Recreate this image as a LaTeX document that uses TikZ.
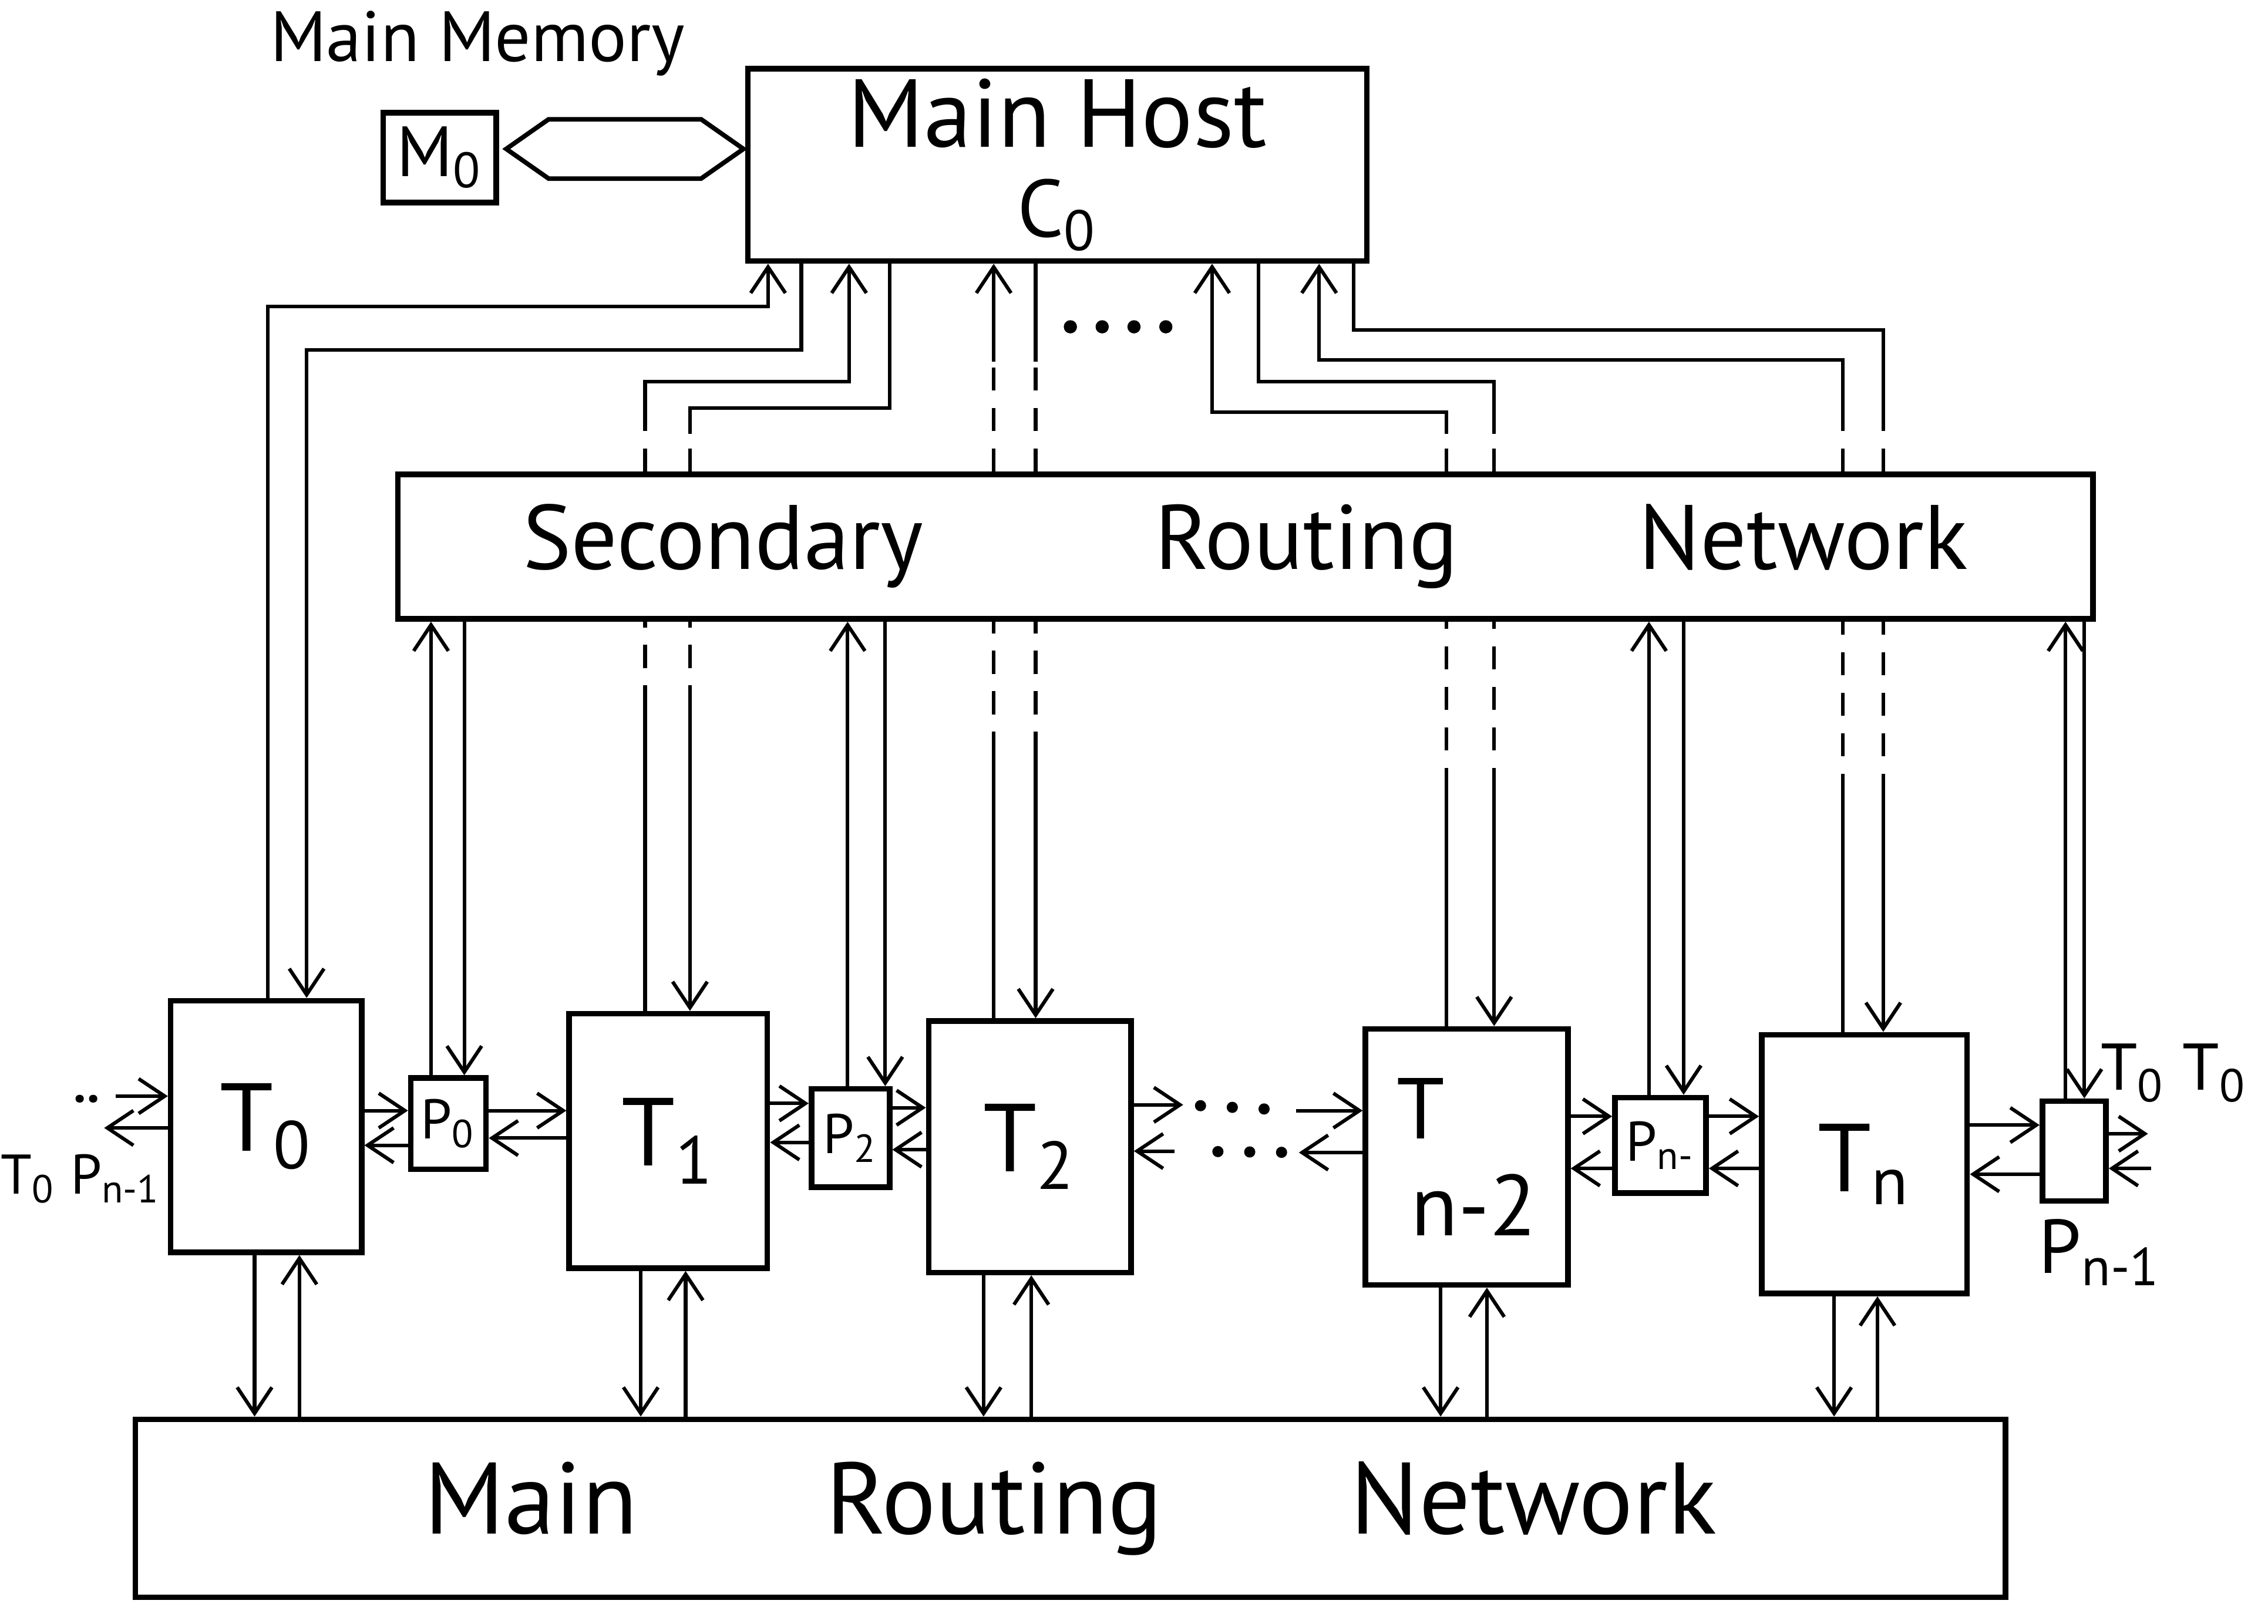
\documentclass[tikz,border=0pt]{standalone}
\usepackage{fontspec}
\setmainfont{PT Sans}
\usetikzlibrary{arrows.meta,shapes.symbols}

\begin{document}
\begin{tikzpicture}[
  x=0.1mm,y=-0.1mm,
  font=\fontsize{14pt}{16pt}\selectfont,
  >={Straight Barb[length=1.8mm,width=2.4mm]},
  blk/.style={draw,line width=1.1pt,inner sep=0pt,align=center},
  unit/.style={blk,font=\fontsize{19pt}{20pt}\selectfont},
  pbox/.style={blk,font=\fontsize{11pt}{12pt}\selectfont},
  net/.style={blk,font=\fontsize{20pt}{22pt}\selectfont},
  link/.style={line width=0.7pt},
  hid/.style={link,dash pattern=on 1.6mm off 1.2mm},
  dotline/.style={line width=2.2pt,line cap=round,dash pattern=on 0pt off 2.2mm},
  ]
\useasboundingbox (0,0) rectangle (1568,1123);

% ---- host and memory ----
\node[blk,minimum width=42.8mm,minimum height=13.3mm,font=\fontsize{19pt}{16pt}\selectfont] (host) at (731,114) {Main Host\\[0.6mm]{\fontsize{16pt}{16pt}\selectfont C\textsubscript{0}}};
\node[blk,minimum width=7.8mm,minimum height=6.2mm] (m0) at (304,109) {M\textsubscript{0}};
\node[signal,signal to=east and west,signal pointer angle=70,draw,line width=0.9pt,inner sep=0pt,minimum width=16.4mm,minimum height=4.1mm] (bus) at (432,103) {};
\node (mmem) at (330,30) {Main Memory};
\coordinate (hd1) at (740,226);
\coordinate (hd2) at (806,226);
\draw[dotline,line width=2.6pt] (hd1) -- (hd2);

% ---- routing networks ----
\node[net,minimum width=117.2mm,minimum height=10mm,font=\fontsize{18pt}{20pt}\selectfont] (srn) at (861,378) {Secondary\hspace{16mm}Routing\hspace{12.5mm}Network};
\node[net,minimum width=129.3mm,minimum height=12.3mm] (mrn) at (740,1043) {Main\hspace{13mm}Routing\hspace{13mm}Network};

% ---- units and ports ----
\node[unit,minimum width=13.2mm,minimum height=17.4mm] (t0) at (184,779) {T\textsubscript{0}};
\node[pbox,minimum width=5.2mm,minimum height=6.3mm] (p0) at (310,777) {P\textsubscript{0}};
\node[unit,minimum width=13.7mm,minimum height=17.6mm] (t1) at (462,789) {T\textsubscript{1}};
\node[pbox,minimum width=5.4mm,minimum height=6.8mm] (p1) at (588,787) {P\textsubscript{2}};
\node[unit,minimum width=14mm,minimum height=17.4mm] (t2) at (712,793) {T\textsubscript{2}};
\node[unit,minimum width=14mm,minimum height=17.7mm,align=left,font=\fontsize{17pt}{19pt}\selectfont] (tn2) at (1014,800) {T\\\,n-2};
\node[pbox,minimum width=6.3mm,minimum height=6.6mm] (pn2) at (1148,792) {P\textsubscript{n-}};
\node[unit,minimum width=14.2mm,minimum height=17.9mm] (tn) at (1289,805) {T\textsubscript{n}};
\node[pbox,minimum width=4.4mm,minimum height=6.9mm] (pn1) at (1434,796) {};

% ---- side labels ----
\node[font=\fontsize{11pt}{12pt}\selectfont] (lwest) at (56,815) {T\textsubscript{0} P\textsubscript{n-1}};
\node[font=\bfseries] (lwdots) at (60,760) {..};
\node[font=\fontsize{13pt}{14pt}\selectfont] (least) at (1503,742) {T\textsubscript{0} T\textsubscript{0}};
\node[font=\fontsize{15pt}{16pt}\selectfont] (lpn1) at (1452,866) {P\textsubscript{n-1}};

% ---- host <-> T0 ----
\draw[link,->] (185,0 |- t0.north) |- (531,212) -- (531,0 |- host.south);
\draw[link,->] (554,0 |- host.south) |- (212,242) -- (212,0 |- t0.north);

% ---- host <-> units, passing the secondary network ----
\foreach \x/\lo/\hi/\u/\tip in {446/490/295/t1/-, 477/490/300/t1/->, 687/522/250/t2/-, 716/522/250/t2/->, 1000/547/300/tn2/-, 1033/547/300/tn2/->, 1274/551/285/tn/-, 1302/551/285/tn/->} {
  \coordinate (lo\x) at (\x,\lo);
  \coordinate (hi\x) at (\x,\hi);
  \draw[link,\tip] (lo\x) -- (\x,0 |- \u.north);
  \draw[hid] (lo\x) -- (\x,0 |- srn.south);
  \draw[hid] (\x,0 |- srn.north) -- (hi\x);
}
\draw[link,->] (hi446) |- (587,264) -- (587,0 |- host.south);
\draw[link] (hi477) |- (615,282) -- (615,0 |- host.south);
\draw[link,->] (hi687) -- (687,0 |- host.south);
\draw[link] (hi716) -- (716,0 |- host.south);
\draw[link,->] (hi1000) |- (838,285) -- (838,0 |- host.south);
\draw[link] (hi1033) |- (870,264) -- (870,0 |- host.south);
\draw[link,->] (hi1274) |- (912,249) -- (912,0 |- host.south);
\draw[link] (hi1302) |- (936,228) -- (936,0 |- host.south);

% ---- secondary network <-> ports ----
\foreach \p/\xu/\xd in {p0/298/321, p1/586/612, pn2/1140/1164, pn1/1428/1441} {
  \draw[link,->] (\xu,0 |- \p.north) -- (\xu,0 |- srn.south);
  \draw[link,->] (\xd,0 |- srn.south) -- (\xd,0 |- \p.north);
}

% ---- units <-> main network ----
\foreach \t/\xd/\xu in {t0/176/207, t1/443/474, t2/680/713, tn2/996/1028, tn/1268/1298} {
  \draw[link,->] (\xd,0 |- \t.south) -- (\xd,0 |- mrn.north);
  \draw[link,->] (\xu,0 |- mrn.north) -- (\xu,0 |- \t.south);
}

% ---- ring of units and ports ----
\foreach \a/\b/\yu/\yl in {t0/p0/768/792, p0/t1/768/787, t1/p1/763/790, p1/t2/766/795, tn2/pn2/772/808, pn2/tn/772/808, tn/pn1/778/812} {
  \draw[link,->] (\a.east |- 0,\yu) -- (\b.west |- 0,\yu);
  \draw[link,->] (\b.west |- 0,\yl) -- (\a.east |- 0,\yl);
}
\coordinate (g1) at (818,764);
\coordinate (g2) at (896,768);
\coordinate (g3) at (898,797);
\coordinate (g4) at (812,796);
\draw[link,->] (t2.east |- g1) -- (g1);
\draw[dotline,shorten <=1.2mm,shorten >=1.5mm] (g1) -- (g2);
\draw[link,->] (g2) -- (tn2.west |- g2);
\draw[link,->] (tn2.west |- g3) -- (g3);
\draw[dotline,shorten <=1.2mm,shorten >=1.5mm] (g3) -- (g4);
\draw[link,->] (g4) -- (t2.east |- g4);

% ---- open ends ----
\coordinate (w1) at (80,758);
\coordinate (w2) at (72,780);
\draw[link,->] (w1) -- (t0.west |- w1);
\draw[link,->] (t0.west |- w2) -- (w2);
\coordinate (e1) at (1485,784);
\coordinate (e2) at (1487,808);
\draw[link,->] (pn1.east |- e1) -- (e1);
\draw[link,->] (e2) -- (pn1.east |- e2);

\end{tikzpicture}
\end{document}
